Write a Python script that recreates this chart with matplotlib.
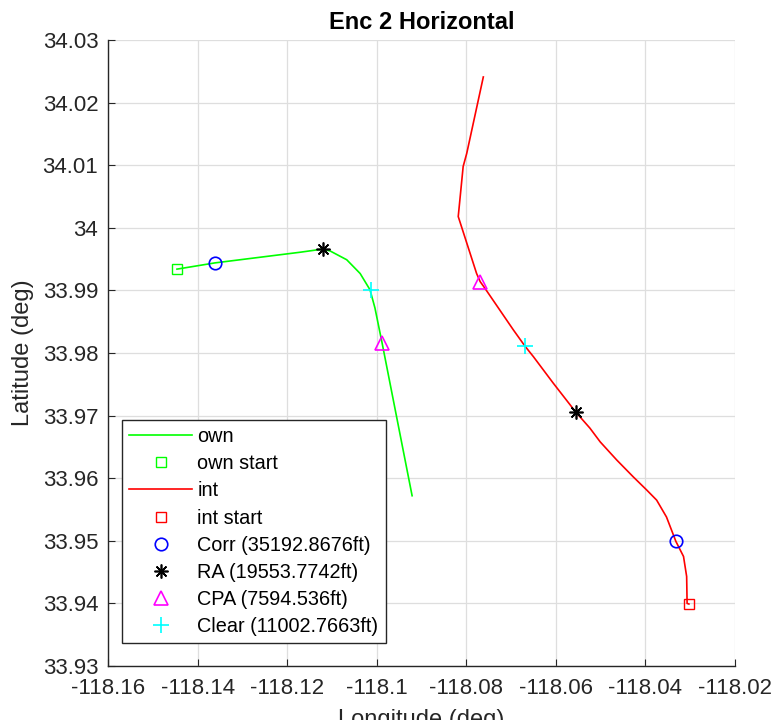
import matplotlib
matplotlib.use("Agg")
import matplotlib.pyplot as plt

plt.rcParams["font.family"] = ["Liberation Sans", "DejaVu Sans"]

# ownship track (lon, lat)
own_lon = [-118.1446, -118.1361, -118.1171, -118.1121, -118.1104, -118.1067,
           -118.1037, -118.1015, -118.1004, -118.0988, -118.0921]
own_lat = [33.9934, 33.9944, 33.9961, 33.9966, 33.9963, 33.9949,
           33.9927, 33.9901, 33.9872, 33.9816, 33.9572]

# intruder track, from start upward
int_lon = [-118.0303, -118.0307, -118.0308, -118.0315, -118.0332, -118.0353,
           -118.0375, -118.0397, -118.0427, -118.0464, -118.0501, -118.0524,
           -118.0556, -118.0606, -118.0650, -118.0669, -118.0695, -118.0758,
           -118.0769, -118.0777, -118.0818, -118.0807, -118.0799, -118.0762]
int_lat = [33.9399, 33.9400, 33.9443, 33.9475, 33.9499, 33.9538,
           33.9565, 33.9581, 33.9602, 33.9629, 33.9658, 33.9680,
           33.9706, 33.9752, 33.9794, 33.9811, 33.9837, 33.9903,
           33.9914, 33.9927, 34.0018, 34.0098, 34.0119, 34.0241]

# event points: own position and intruder position
corr_lon = [-118.1361, -118.0332]
corr_lat = [33.9944, 33.9499]
ra_lon = [-118.1121, -118.0556]
ra_lat = [33.9966, 33.9706]
cpa_lon = [-118.0988, -118.0769]
cpa_lat = [33.9816, 33.9914]
clear_lon = [-118.1013, -118.0669]
clear_lat = [33.9901, 33.9811]

corr_ft = 35192.8676
ra_ft = 19553.7742
cpa_ft = 7594.536
clear_ft = 11002.7663

xticks = [-118.16, -118.14, -118.12, -118.1, -118.08, -118.06, -118.04, -118.02]
yticks = [33.93, 33.94, 33.95, 33.96, 33.97, 33.98, 33.99, 34, 34.01, 34.02, 34.03]

fig = plt.figure(figsize=(7.72, 7.2), dpi=100)
ax = fig.add_axes([0.1399, 0.075, 0.8122, 0.8694])

ax.plot(own_lon, own_lat, color=(0, 1, 0), lw=1.2, label="own")
ax.plot(own_lon[0], own_lat[0], "s", mfc="none", mec=(0, 1, 0), ms=7, label="own start")
ax.plot(int_lon, int_lat, color=(1, 0, 0), lw=1.2, label="int")
ax.plot(int_lon[0], int_lat[0], "s", mfc="none", mec=(1, 0, 0), ms=7, label="int start")
ax.plot(corr_lon, corr_lat, "o", mfc="none", mec=(0, 0, 1), ms=9, mew=1.2, ls="none",
        label=f"Corr ({corr_ft}ft)")
ax.plot(ra_lon, ra_lat, marker=(8, 2, 0), color="k", ms=10, mew=1.2, ls="none",
        label=f"RA ({ra_ft}ft)")
ax.plot(cpa_lon, cpa_lat, "^", mfc="none", mec=(1, 0, 1), ms=10, mew=1.2, ls="none",
        label=f"CPA ({cpa_ft}ft)")
ax.plot(clear_lon, clear_lat, "+", color=(0, 1, 1), ms=11, mew=1.2, ls="none",
        label=f"Clear ({clear_ft}ft)")

ax.set_xlim(-118.16, -118.02)
ax.set_ylim(33.93, 34.03)
ax.set_xticks(xticks)
ax.set_xticklabels([f"{v:g}" for v in xticks])
ax.set_yticks(yticks)
ax.set_yticklabels([f"{v:g}" for v in yticks])
ax.grid(True, color="#dedede", lw=0.9)
ax.set_axisbelow(True)
for s in ["top", "right"]:
    ax.spines[s].set_visible(False)
for s in ["left", "bottom"]:
    ax.spines[s].set_color("#262626")
    ax.spines[s].set_linewidth(1.0)
ax.tick_params(direction="in", length=5, colors="#262626", labelsize=16)
ax.tick_params(axis="x", pad=9)
ax.tick_params(axis="y", pad=7)

ax.set_title("Enc 2 Horizontal", fontsize=17, fontweight="bold", pad=8)
ax.set_xlabel("Longitude (deg)", fontsize=17, color="#262626", labelpad=7)
ax.set_ylabel("Latitude (deg)", fontsize=17, color="#262626", labelpad=6)

leg = ax.legend(loc="lower left", bbox_to_anchor=(0.0223, 0.0367), borderaxespad=0,
                fontsize=14.3, handlelength=3.2, handletextpad=0.25, labelspacing=0.41,
                borderpad=0.35, fancybox=False, framealpha=1, edgecolor="#262626")
leg.get_frame().set_linewidth(1.0)

fig.savefig("out.png", dpi=100)
